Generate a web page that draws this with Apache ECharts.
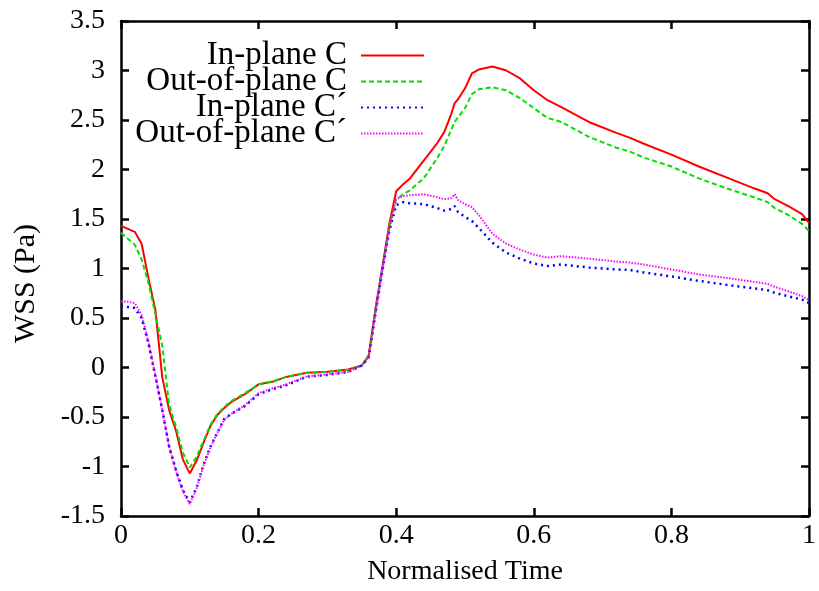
<!DOCTYPE html>
<html>
<head>
<meta charset="utf-8">
<script src="https://cdn.jsdelivr.net/npm/echarts@6/dist/echarts.min.js"></script>
<style>
  html, body { margin: 0; padding: 0; background: #fff; }
  #chart { width: 819px; height: 591px; }
</style>
</head>
<body>
<div id="chart"></div>
<script>
// normalised time knots (shared by all four curves)
const time = [0, 0.01, 0.02, 0.03, 0.04, 0.05, 0.06, 0.07, 0.08, 0.09, 0.10, 0.11, 0.12, 0.13, 0.14, 0.15, 0.16, 0.18, 0.20, 0.22, 0.24, 0.27, 0.30, 0.33, 0.35, 0.36, 0.37, 0.38, 0.39, 0.40, 0.41, 0.42, 0.44, 0.46, 0.47, 0.48, 0.485, 0.49, 0.50, 0.51, 0.52, 0.54, 0.56, 0.58, 0.60, 0.62, 0.64, 0.68, 0.72, 0.74, 0.76, 0.80, 0.84, 0.88, 0.92, 0.94, 0.95, 0.97, 0.99, 1.0];

// WSS (Pa)
const inPlaneC = [1.43, 1.40, 1.37, 1.25, 0.90, 0.58, -0.10, -0.43, -0.64, -0.93, -1.07, -0.94, -0.76, -0.59, -0.48, -0.41, -0.35, -0.27, -0.17, -0.145, -0.095, -0.052, -0.042, -0.02, 0.02, 0.12, 0.60, 1.02, 1.45, 1.78, 1.85, 1.91, 2.09, 2.27, 2.38, 2.56, 2.67, 2.71, 2.82, 2.97, 3.01, 3.04, 3.00, 2.92, 2.80, 2.70, 2.63, 2.48, 2.37, 2.32, 2.26, 2.15, 2.03, 1.92, 1.81, 1.76, 1.70, 1.63, 1.55, 1.46];
const outPlaneC = [1.36, 1.30, 1.24, 1.09, 0.85, 0.54, 0.22, -0.38, -0.60, -0.86, -1.01, -0.90, -0.74, -0.58, -0.47, -0.40, -0.34, -0.26, -0.17, -0.14, -0.095, -0.055, -0.045, -0.025, 0.02, 0.12, 0.58, 1.00, 1.42, 1.70, 1.75, 1.79, 1.91, 2.12, 2.24, 2.40, 2.48, 2.53, 2.62, 2.76, 2.81, 2.83, 2.80, 2.72, 2.62, 2.52, 2.48, 2.33, 2.22, 2.18, 2.12, 2.03, 1.91, 1.81, 1.72, 1.67, 1.61, 1.54, 1.45, 1.38];
const inPlaneCp = [0.62, 0.61, 0.60, 0.50, 0.24, -0.09, -0.43, -0.80, -1.04, -1.24, -1.36, -1.21, -0.98, -0.80, -0.66, -0.52, -0.47, -0.39, -0.27, -0.22, -0.18, -0.093, -0.075, -0.045, 0.02, 0.10, 0.55, 0.98, 1.38, 1.64, 1.67, 1.66, 1.65, 1.61, 1.585, 1.60, 1.63, 1.57, 1.52, 1.48, 1.41, 1.26, 1.16, 1.10, 1.05, 1.025, 1.04, 1.01, 0.99, 0.985, 0.96, 0.92, 0.875, 0.835, 0.80, 0.78, 0.755, 0.72, 0.685, 0.65];
const outPlaneCp = [0.67, 0.665, 0.65, 0.53, 0.26, -0.08, -0.43, -0.80, -1.05, -1.25, -1.38, -1.22, -0.99, -0.81, -0.66, -0.53, -0.47, -0.38, -0.26, -0.21, -0.17, -0.09, -0.07, -0.045, 0.02, 0.10, 0.55, 0.99, 1.40, 1.70, 1.73, 1.74, 1.75, 1.72, 1.70, 1.71, 1.75, 1.69, 1.65, 1.62, 1.54, 1.35, 1.25, 1.19, 1.14, 1.11, 1.125, 1.10, 1.07, 1.06, 1.04, 0.99, 0.94, 0.905, 0.865, 0.845, 0.815, 0.77, 0.72, 0.68];

const names = ['In-plane C', 'Out-of-plane C', 'In-plane C\u00b4', 'Out-of-plane C\u00b4'];

const font = '"Liberation Serif", "Times New Roman", serif';

const pairs = (vals) => time.map((t, i) => [t, vals[i]]);

const makeSeries = (name, vals, color, dash, width) => ({
  name: name,
  type: 'line',
  data: pairs(vals),
  symbol: 'none',
  animation: false,
  lineStyle: { color: color, width: width, type: dash },
  itemStyle: { color: color }
});

const chart = echarts.init(document.getElementById('chart'));

const frameAxis = {
  axisLine: { show: true, onZero: false, lineStyle: { color: '#000', width: 2.5 } },
  axisTick: { show: true, inside: true, length: 8, lineStyle: { color: '#000', width: 2.5 } },
  splitLine: { show: false }
};

chart.setOption({
  animation: false,
  grid: { left: 121, right: 10, top: 21, bottom: 75 },
  legend: {
    orient: 'vertical',
    align: 'right',
    right: 389,
    top: 34,
    itemWidth: 63,
    itemHeight: 14,
    itemGap: -7,
    itemStyle: { opacity: 0 },
    textStyle: { fontFamily: font, fontSize: 33, color: '#000', padding: [0, 9, 0, 0] },
    data: names
  },
  xAxis: [
    Object.assign({
      type: 'value', min: 0, max: 1, interval: 0.2, position: 'bottom',
      name: 'Normalised Time', nameLocation: 'middle', nameGap: 42,
      nameTextStyle: { fontFamily: font, fontSize: 28, color: '#000' },
      axisLabel: { fontFamily: font, fontSize: 28, color: '#000', margin: 6 }
    }, frameAxis),
    Object.assign({
      type: 'value', min: 0, max: 1, interval: 0.2, position: 'top',
      axisLabel: { show: false }
    }, frameAxis)
  ],
  yAxis: [
    Object.assign({
      type: 'value', min: -1.5, max: 3.5, interval: 0.5, position: 'left',
      name: 'WSS (Pa)', nameLocation: 'middle', nameGap: 80,
      nameTextStyle: { fontFamily: font, fontSize: 30, color: '#000', padding: [0, 30, 0, 0] },
      axisLabel: { fontFamily: font, fontSize: 28, color: '#000', margin: 16 }
    }, frameAxis),
    Object.assign({
      type: 'value', min: -1.5, max: 3.5, interval: 0.5, position: 'right',
      axisLabel: { show: false }
    }, frameAxis)
  ],
  series: [
    makeSeries(names[0], inPlaneC, '#ff0000', 'solid', 2),
    makeSeries(names[1], outPlaneC, '#00e000', [5, 3], 2),
    makeSeries(names[2], inPlaneCp, '#0000ff', [2, 4], 2.5),
    makeSeries(names[3], outPlaneCp, '#ff00ff', [1.5, 1.5], 2)
  ]
});
</script>
</body>
</html>
